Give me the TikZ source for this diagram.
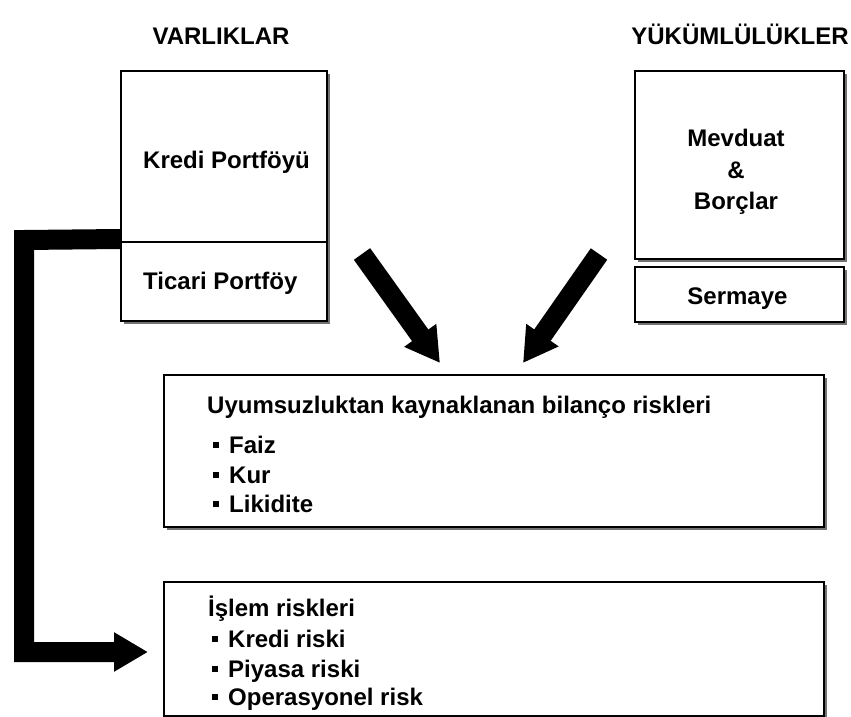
\documentclass[tikz,border=0pt]{standalone}
\usepackage{fontspec}
\setmainfont{Liberation Sans}
\usetikzlibrary{arrows.meta,shadows}
% small square bullet for the risk lists
\newcommand{\sqbullet}{\raisebox{5pt}{\rule{6pt}{6pt}}\hspace{10pt}}

\begin{document}
\begin{tikzpicture}[x=1pt,y=-1pt,
  font=\fontsize{24}{32}\selectfont\bfseries,
  box/.style={draw=black, line width=2pt, fill=white, inner sep=0pt,
    drop shadow={shadow xshift=3pt, shadow yshift=-3pt, fill=black!55, opacity=1}},
  bigarrow/.style={line width=20pt, line join=miter,
    -{Triangle[length=34pt 0 0, width=37pt 0 0]}},
  txt/.style={inner sep=0pt, anchor=base},
  ltxt/.style={inner sep=0pt, anchor=base west}]

\useasboundingbox (0,0) rectangle (851,717);

% column headings
\node[txt] (varliklar) at (221,45) {VARLIKLAR};
\node[txt] (yukum) at (740,45) {YÜKÜMLÜLÜKLER};

% assets
\node[box, minimum width=206pt, minimum height=171pt] (kredi) at (224,156.5) {};
\node[box, minimum width=206pt, minimum height=79pt] (ticari) at (224,281.5) {};
\node[ltxt] (kreditxt) at (143,168) {Kredi Portföyü};
\node[ltxt] (ticaritxt) at (143,289) {Ticari Portföy};

% liabilities
\node[box, minimum width=209pt, minimum height=188pt] (mevduat) at (739.5,165) {};
\node[box, minimum width=209pt, minimum height=55pt] (sermaye) at (739.5,294.5) {};
\node[txt] (mevtxt1) at (736,146) {Mevduat};
\node[txt] (mevtxt2) at (736,178) {\&};
\node[txt] (mevtxt3) at (736,209) {Borçlar};
\node[txt] (sertxt) at (737.5,304) {Sermaye};

% balance-sheet mismatch risks
\node[box, minimum width=660pt, minimum height=152pt] (bilanco) at (494,451) {};
\node[ltxt] (bilhead) at (207,413) {Uyumsuzluktan kaynaklanan bilanço riskleri};
\node[ltxt] (faiz) at (213,453) {\sqbullet Faiz};
\node[ltxt] (kur) at (213,483) {\sqbullet Kur};
\node[ltxt] (likidite) at (213,512) {\sqbullet Likidite};

% trading risks
\node[box, minimum width=660pt, minimum height=134pt] (islem) at (494,649) {};
\node[ltxt] (islhead) at (208,616) {İşlem riskleri};
\node[ltxt] (kredirisk) at (212,647) {\sqbullet Kredi riski};
\node[ltxt] (piyasa) at (212,677) {\sqbullet Piyasa riski};
\node[ltxt] (operasyonel) at (212,705) {\sqbullet Operasyonel risk};

% arrow end points
\coordinate (la1) at (362,254);
\coordinate (la2) at (440,363);
\coordinate (ra1) at (599,254);
\coordinate (ra2) at (523,363);
\coordinate (lc1) at (24,240);
\coordinate (lc2) at (24,652);
\coordinate (lc3) at (148,652);

% flows into the mismatch box
\draw[bigarrow] (la1) -- (la2);
\draw[bigarrow] (ra1) -- (ra2);

% trading portfolio feeding the trading risks
\draw[bigarrow] ([yshift=2pt]ticari.north west) -- (lc1) -- (lc2) -- (lc3);
\end{tikzpicture}
\end{document}
